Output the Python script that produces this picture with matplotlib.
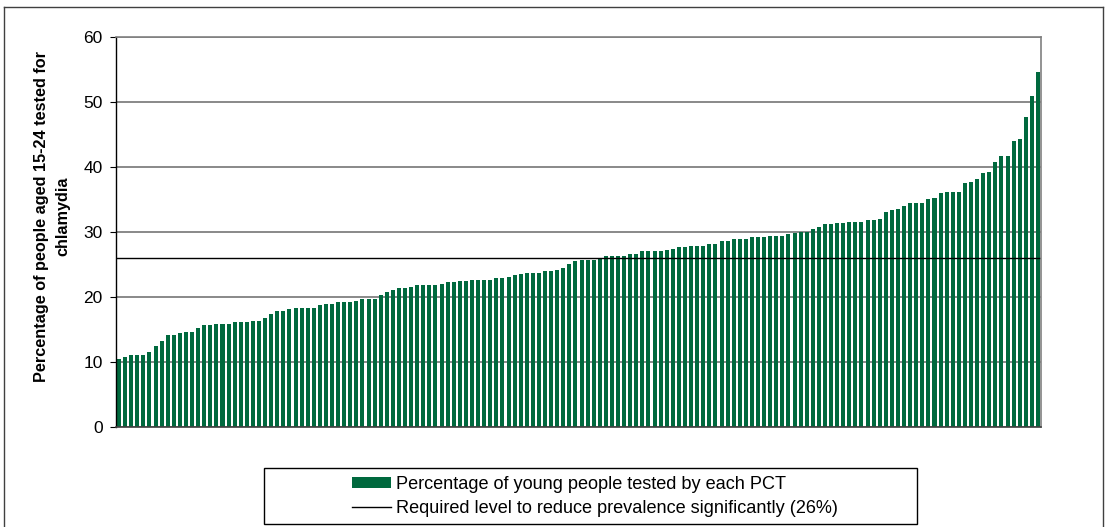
import matplotlib.pyplot as plt
from matplotlib.patches import Rectangle
from matplotlib.lines import Line2D
import numpy as np

plt.rcParams['font.family'] = ['Liberation Sans', 'DejaVu Sans']

# Percentage of young people (15-24) tested, one bar per PCT, sorted
tested = [
    10.5, 10.7, 11.1, 11.1, 11.1, 11.5, 12.5, 13.2, 14.2, 14.2,
    14.5, 14.6, 14.6, 15.2, 15.7, 15.7, 15.8, 15.8, 15.8, 16.2,
    16.2, 16.2, 16.3, 16.3, 16.8, 17.4, 17.8, 17.8, 18.2,
    18.3, 18.3, 18.3, 18.3, 18.8, 18.9, 18.9, 19.2, 19.2, 19.2,
    19.4, 19.7, 19.7, 19.7, 20.3, 20.8, 21.1, 21.4, 21.4, 21.5,
    21.8, 21.8, 21.8, 21.8, 22.0, 22.3, 22.3, 22.5, 22.5, 22.6, 22.6,
    22.6, 22.6, 22.9, 22.9, 23.1, 23.4, 23.5, 23.7, 23.7, 23.7,
    24.0, 24.0, 24.2, 24.5, 25.1, 25.5, 25.7, 25.7, 25.7, 26.0,
    26.3, 26.3, 26.3, 26.3, 26.6, 26.6, 27.1, 27.1, 27.1, 27.1,
    27.2, 27.4, 27.7, 27.7, 27.8, 27.8, 27.8, 28.1, 28.1, 28.6,
    28.6, 28.9, 28.9, 28.9, 29.2, 29.2, 29.2, 29.4, 29.4, 29.4,
    29.7, 29.8, 30.0, 30.0, 30.5, 30.8, 31.2, 31.2, 31.4,
    31.4, 31.5, 31.5, 31.5, 31.9, 31.9, 32.0, 33.1, 33.4, 33.5,
    34.0, 34.5, 34.5, 34.5, 35.1, 35.3, 36.0, 36.2, 36.2, 36.2,
    37.5, 37.7, 38.2, 39.1, 39.2, 40.8, 41.7, 41.7, 44.0, 44.3,
    47.7, 50.9, 54.6,
]
required_level = 26
y_ticks = [0, 10, 20, 30, 40, 50, 60]

bar_label = 'Percentage of young people tested by each PCT'
line_label = 'Required level to reduce prevalence significantly (26%)'
y_label = 'Percentage of people aged 15-24 tested for\nchlamydia'

green = '#00693E'
W, H = 1107, 527

fig = plt.figure(figsize=(W / 100, H / 100), dpi=100)
ax = fig.add_axes([116 / W, 1 - 427 / H, (1041 - 116) / W, 390 / H])

x = np.arange(len(tested))
ax.set_axisbelow(True)
ax.yaxis.grid(True, color='#808080', linewidth=1.3)
bars = ax.bar(x, tested, width=0.66, color=green, label=bar_label)
ref = ax.axhline(required_level, color='black', linewidth=1.0, label=line_label)

ax.set_xlim(-0.5, len(tested) - 0.5)
ax.set_ylim(0, 60)
ax.set_yticks(y_ticks)
ax.set_xticks([])
ax.tick_params(axis='y', labelsize=12.5, length=4.5, width=0.8, pad=5)

for side in ['top', 'right']:
    ax.spines[side].set_color('#808080')
    ax.spines[side].set_linewidth(1.2)
ax.spines['left'].set_color('black')
ax.spines['left'].set_linewidth(1.0)
ax.spines['bottom'].set_color('#404040')
ax.spines['bottom'].set_linewidth(1.2)

fig.text(52 / W, 1 - 216 / H, y_label, rotation=90, ha='center', va='center',
         fontsize=11.7, fontweight='bold', multialignment='center', linespacing=1.5)

# legend, with its own frame drawn around it
fig.legend(handles=[bars, ref], labels=[bar_label, line_label],
           loc='center left', bbox_to_anchor=(352 / W, 1 - 496.5 / H),
           bbox_transform=fig.transFigure, frameon=False, fontsize=13.1,
           borderpad=0, borderaxespad=0, handlelength=2.15, handleheight=0.55,
           handletextpad=0.28, labelspacing=0.35)
fig.add_artist(Rectangle((264 / W, 1 - 524 / H), 653 / W, 56 / H,
                         transform=fig.transFigure, fill=False,
                         edgecolor='black', linewidth=1.0))

# chart area border
fig.add_artist(Line2D([4 / W, 4 / W], [0, 1 - 7 / H], transform=fig.transFigure,
                      color='#404040', linewidth=1.0))
fig.add_artist(Line2D([4 / W, 1103 / W], [1 - 7 / H, 1 - 7 / H], transform=fig.transFigure,
                      color='#404040', linewidth=1.0))
fig.add_artist(Line2D([1103 / W, 1103 / W], [0, 1 - 7 / H], transform=fig.transFigure,
                      color='#404040', linewidth=1.0))

fig.savefig('out.png', dpi=100)
